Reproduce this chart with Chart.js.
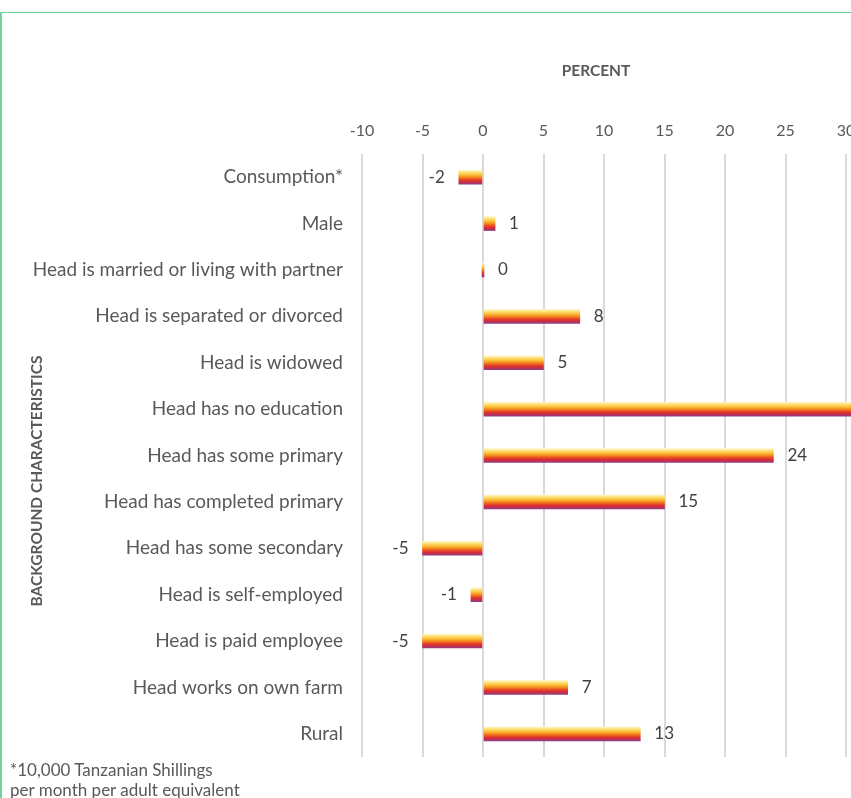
<!DOCTYPE html>
<html>
<head>
<meta charset="utf-8">
<script src="https://cdn.jsdelivr.net/npm/chart.js@4.4.1/dist/chart.umd.min.js"></script>
<style>
  html, body { margin: 0; padding: 0; background: #ffffff; }
  #page { position: relative; width: 851px; height: 798px; overflow: hidden; background: #ffffff; }
  #frame { position: absolute; left: 0; top: 12px; width: 1000px; height: 1000px;
           border-top: 1.5px solid #74d29c; border-left: 2px solid #74d29c; box-sizing: border-box; }
  #wrap { position: absolute; left: 0; top: 0; width: 870px; height: 798px; }
  #note { position: absolute; left: 10px; top: 760px; font-family: Lato, "Open Sans", sans-serif;
          font-size: 17px; line-height: 20px; color: #595959; white-space: nowrap; }
</style>
</head>
<body>
<div id="page">
  <div id="frame"></div>
  <div id="wrap"><canvas id="chart" width="870" height="798"></canvas></div>
  <div id="note">*10,000 Tanzanian Shillings<br>per month per adult equivalent</div>
</div>
<script>
// Percent differences by household background characteristic
const categories = [
  'Consumption*',
  'Male',
  'Head is married or living with partner',
  'Head is separated or divorced',
  'Head is widowed',
  'Head has no education',
  'Head has some primary',
  'Head has completed primary',
  'Head has some secondary',
  'Head is self-employed',
  'Head is paid employee',
  'Head works on own farm',
  'Rural'
];
const percentValues = [-2, 1, 0, 8, 5, 31, 24, 15, -5, -1, -5, 7, 13];
const percentTicks = [-10, -5, 0, 5, 10, 15, 20, 25, 30];

const FONT = 'Lato, "Open Sans", sans-serif';
const GREY = '#595959';

// Banded warm gradient across the thickness of each bar
function barFill(ctx) {
  const chart = ctx.chart;
  const yScale = chart.scales && chart.scales.y;
  if (!chart.chartArea || !yScale) return '#e8501f';
  const yc = yScale.getPixelForValue(ctx.dataIndex);
  const g = chart.ctx.createLinearGradient(0, yc - 7, 0, yc + 7);
  g.addColorStop(0.00, '#fff6d0');
  g.addColorStop(0.15, '#fde27a');
  g.addColorStop(0.32, '#fbc23c');
  g.addColorStop(0.48, '#f5921f');
  g.addColorStop(0.62, '#ec5a22');
  g.addColorStop(0.76, '#dc2f30');
  g.addColorStop(0.88, '#c12f4e');
  g.addColorStop(1.00, '#8f3c86');
  return g;
}

// Value labels just beyond the end of each bar
const valueLabels = {
  id: 'valueLabels',
  afterDatasetsDraw(chart) {
    const ctx = chart.ctx;
    const meta = chart.getDatasetMeta(0);
    ctx.save();
    ctx.font = '17px ' + FONT;
    ctx.fillStyle = '#404040';
    ctx.textBaseline = 'middle';
    meta.data.forEach((bar, i) => {
      const v = chart.data.datasets[0].data[i];
      if (v < 0) {
        ctx.textAlign = 'right';
        ctx.fillText(String(v), bar.x - 14, bar.y);
      } else {
        ctx.textAlign = 'left';
        ctx.fillText(String(v), Math.max(bar.x, bar.base) + 14, bar.y);
      }
    });
    ctx.restore();
  }
};

// Axis titles: value axis title above the ticks, category axis title rotated at the left
const axisTitles = {
  id: 'axisTitles',
  afterDraw(chart) {
    const ctx = chart.ctx;
    ctx.save();
    ctx.font = 'bold 15.5px ' + FONT;
    ctx.fillStyle = GREY;
    ctx.textAlign = 'center';
    ctx.textBaseline = 'middle';
    ctx.fillText('PERCENT', 596, 71);
    ctx.translate(37, 481);
    ctx.rotate(-Math.PI / 2);
    ctx.fillText('BACKGROUND CHARACTERISTICS', 0, 0);
    ctx.restore();
  }
};

new Chart(document.getElementById('chart'), {
  type: 'bar',
  data: {
    labels: categories,
    datasets: [{
      data: percentValues,
      backgroundColor: barFill,
      borderWidth: 0,
      barThickness: 14,
      minBarLength: 2,
      clip: false
    }]
  },
  options: {
    indexAxis: 'y',
    responsive: false,
    animation: false,
    layout: { padding: { left: 10, right: 24, top: 0, bottom: 41 } },
    plugins: {
      legend: { display: false },
      tooltip: { enabled: false }
    },
    scales: {
      x: {
        position: 'top',
        min: percentTicks[0],
        max: percentTicks[percentTicks.length - 1],
        afterBuildTicks(scale) {
          scale.ticks = percentTicks.map(v => ({ value: v }));
        },
        afterFit(scale) { scale.height = 154; },
        grid: { color: '#d9d9d9', lineWidth: 2, drawTicks: false },
        border: { display: false },
        ticks: { color: GREY, font: { family: FONT, size: 16 }, padding: 14 }
      },
      y: {
        afterFit(scale) { scale.width = 352; },
        grid: { display: false, drawTicks: false },
        border: { display: false },
        ticks: { color: GREY, font: { family: FONT, size: 19 }, padding: 19 }
      }
    }
  },
  plugins: [valueLabels, axisTitles]
});
</script>
</body>
</html>
